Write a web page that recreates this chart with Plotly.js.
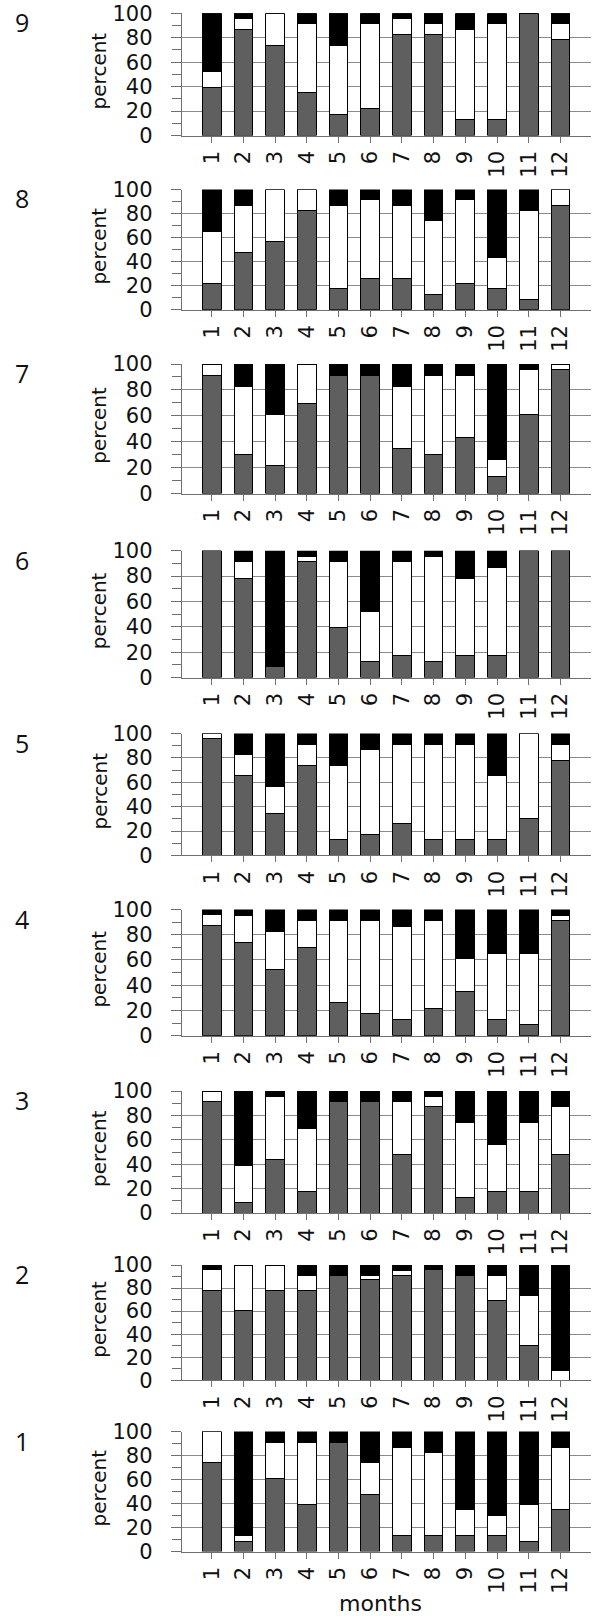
<!DOCTYPE html>
<html>
<head>
<meta charset="utf-8">
<script src="https://cdn.plot.ly/plotly-3.0.1.min.js"></script>
<style>
  html, body { margin: 0; padding: 0; background: #ffffff; }
  #chart { width: 594px; height: 1616px; }
</style>
</head>
<body>
<div id="chart"></div>
<script>
// ---------------- DATA ----------------
var months = ['1','2','3','4','5','6','7','8','9','10','11','12'];
var monthPos = [1,2,3,4,5,6,7,8,9,10,11,12];
var panelNames = ['9','8','7','6','5','4','3','2','1'];
var yTicks = [0,20,40,60,80,100];

// percent of each class per month (dark grey = bottom, white = middle, black = top)
var gray9  = [39.1, 87.0, 73.9, 34.8, 17.4, 21.7, 82.6, 82.6, 13.0, 13.0, 100, 78.3];
var white9 = [13.0,  8.7, 26.1, 56.5, 56.5, 69.6, 13.0,  8.7, 73.9, 78.3,   0, 13.0];
var black9 = [47.9,  4.3,    0,  8.7, 26.1,  8.7,  4.4,  8.7, 13.1,  8.7,   0,  8.7];

var gray8  = [21.7, 47.8, 56.5, 82.6, 17.4, 26.1, 26.1, 13.0, 21.7, 17.4,  8.7, 87.0];
var white8 = [43.5, 39.1, 43.5, 17.4, 69.6, 65.2, 60.9, 60.9, 69.6, 26.1, 73.9, 13.0];
var black8 = [34.8, 13.1,    0,    0, 13.0,  8.7, 13.0, 26.1,  8.7, 56.5, 17.4,    0];

var gray7  = [91.3, 30.4, 21.7, 69.6, 91.3, 91.3, 34.8, 30.4, 43.5, 13.0, 60.9, 95.7];
var white7 = [ 8.7, 52.2, 39.1, 30.4,    0,    0, 47.8, 60.9, 47.8, 13.0, 34.8,  4.3];
var black7 = [   0, 17.4, 39.2,    0,  8.7,  8.7, 17.4,  8.7,  8.7, 74.0,  4.3,    0];

var gray6  = [100, 78.3,  8.7, 91.3, 39.1, 13.0, 17.4, 13.0, 17.4, 17.4, 100, 100];
var white6 = [  0, 13.0,    0,  4.3, 52.2, 39.1, 73.9, 82.6, 60.9, 69.6,   0,   0];
var black6 = [  0,  8.7, 91.3,  4.4,  8.7, 47.9,  8.7,  4.4, 21.7, 13.0,   0,   0];

var gray5  = [95.7, 65.2, 34.8, 73.9, 13.0, 17.4, 26.1, 13.0, 13.0, 13.0, 30.4, 78.3];
var white5 = [ 4.3, 17.4, 21.7, 17.4, 60.9, 69.6, 65.2, 78.3, 78.3, 52.2, 69.6, 13.0];
var black5 = [   0, 17.4, 43.5,  8.7, 26.1, 13.0,  8.7,  8.7,  8.7, 34.8,    0,  8.7];

var gray4  = [87.0, 73.9, 52.2, 69.6, 26.1, 17.4, 13.0, 21.7, 34.8, 13.0,  8.7, 91.3];
var white4 = [ 8.7, 21.7, 30.4, 21.7, 65.2, 73.9, 73.9, 69.6, 26.1, 52.2, 56.5,  4.3];
var black4 = [ 4.3,  4.4, 17.4,  8.7,  8.7,  8.7, 13.1,  8.7, 39.1, 34.8, 34.8,  4.4];

var gray3  = [91.3,  8.7, 43.5, 17.4, 91.3, 91.3, 47.8, 87.0, 13.0, 17.4, 17.4, 47.8];
var white3 = [ 8.7, 30.4, 52.2, 52.2,    0,    0, 43.5,  8.7, 60.9, 39.1, 56.5, 39.1];
var black3 = [   0, 60.9,  4.3, 30.4,  8.7,  8.7,  8.7,  4.3, 26.1, 43.5, 26.1, 13.1];

var gray2  = [78.3, 60.9, 78.3, 78.3, 91.3, 87.0, 91.3, 95.7, 91.3, 69.6, 30.4,    0];
var white2 = [17.4, 39.1, 21.7, 13.0,    0,  4.3,  4.3,    0,    0, 21.7, 43.5,  8.7];
var black2 = [ 4.3,    0,    0,  8.7,  8.7,  8.7,  4.4,  4.3,  8.7,  8.7, 26.1, 91.3];

var gray1  = [73.9,  8.7, 60.9, 39.1, 91.3, 47.8, 13.0, 13.0, 13.0, 13.0,  8.7, 34.8];
var white1 = [26.1,  4.3, 30.4, 52.2,    0, 26.1, 73.9, 69.6, 21.7, 17.4, 30.4, 52.2];
var black1 = [   0, 87.0,  8.7,  8.7,  8.7, 26.1, 13.1, 17.4, 65.3, 69.6, 60.9, 13.0];

var panelData = [
  [gray9, white9, black9], [gray8, white8, black8], [gray7, white7, black7],
  [gray6, white6, black6], [gray5, white5, black5], [gray4, white4, black4],
  [gray3, white3, black3], [gray2, white2, black2], [gray1, white1, black1]
];

// ---------------- LAYOUT GEOMETRY (pixels) ----------------
var W = 594, H = 1616;
var panelTop    = [13.3, 189.5, 364.0, 550.7, 733.6, 909.5, 1091.0, 1265.0, 1431.6];
var panelBottom = [135.5, 309.7, 493.6, 677.6, 855.4, 1035.7, 1213.0, 1380.3, 1551.5];
var xLeftPx = 181.7, xRightPx = 591;

var fillColors = ['#5f5f5f', '#ffffff', '#000000'];
var gridCol = '#8a8a8a', axCol = '#707070';
var rFont = 'DejaVu Sans';

var traces = [];
var layout = {
  width: W, height: H, autosize: false,
  margin: {l: 0, r: 0, t: 0, b: 0, pad: 0},
  paper_bgcolor: '#ffffff', plot_bgcolor: '#ffffff',
  barmode: 'stack', showlegend: false,
  annotations: []
};

for (var r = 0; r < 9; r++) {
  var xa = 'x' + (r === 0 ? '' : (r + 1));
  var ya = 'y' + (r === 0 ? '' : (r + 1));
  var xKey = 'xaxis' + (r === 0 ? '' : (r + 1));
  var yKey = 'yaxis' + (r === 0 ? '' : (r + 1));
  for (var s = 0; s < 3; s++) {
    traces.push({
      type: 'bar', x: monthPos, y: panelData[r][s],
      xaxis: xa, yaxis: ya, width: 0.59,
      marker: {color: fillColors[s], line: {color: '#000000', width: 1}},
      cliponaxis: false, hoverinfo: 'skip'
    });
  }
  var d0 = 1 - panelBottom[r] / H, d1 = 1 - panelTop[r] / H;
  layout[yKey] = {
    domain: [d0, d1], range: [0, 100], anchor: xa,
    tickvals: yTicks, ticktext: yTicks.map(String),
    ticks: 'outside', ticklen: 10, tickwidth: 1, tickcolor: axCol,
    showline: true, linecolor: axCol, linewidth: 1,
    showgrid: true, gridcolor: gridCol, gridwidth: 1, zeroline: false,
    tickfont: {family: rFont, size: 21, color: '#111111'},
    ticklabelstandoff: 14,
    minor: {tick0: 0, dtick: 10, ticks: 'outside', ticklen: 9, tickcolor: axCol, tickwidth: 1, showgrid: false},
    fixedrange: true, automargin: false
  };
  layout[xKey] = {
    domain: [xLeftPx / W, xRightPx / W], range: [0.054, 12.965], anchor: ya,
    tickvals: monthPos, ticktext: months, tickangle: -90,
    ticks: 'outside', ticklen: 6, tickwidth: 1, tickcolor: axCol,
    showline: true, linecolor: axCol, linewidth: 1,
    showgrid: false, zeroline: false,
    tickfont: {family: rFont, size: 21, color: '#111111'},
    fixedrange: true, automargin: false
  };
  // panel number
  layout.annotations.push({
    text: panelNames[r], xref: 'paper', yref: 'paper',
    x: 22 / W, y: 1 - (panelTop[r] + 9) / H, xanchor: 'center', yanchor: 'middle',
    showarrow: false, font: {family: 'Open Sans', size: 25, color: '#111111'}
  });
  // y axis title
  layout.annotations.push({
    text: 'percent', xref: 'paper', yref: 'paper',
    x: 99 / W, y: 1 - ((panelTop[r] + panelBottom[r]) / 2 - 3) / H,
    xanchor: 'center', yanchor: 'middle', textangle: -90,
    showarrow: false, font: {family: rFont, size: 20, color: '#111111'}
  });
}
layout.annotations.push({
  text: 'months', xref: 'paper', yref: 'paper',
  x: 380 / W, y: 1 - 1603 / H, xanchor: 'center', yanchor: 'middle',
  showarrow: false, font: {family: rFont, size: 22, color: '#111111'}
});

Plotly.newPlot('chart', traces, layout, {staticPlot: true, displayModeBar: false});
</script>
</body>
</html>
